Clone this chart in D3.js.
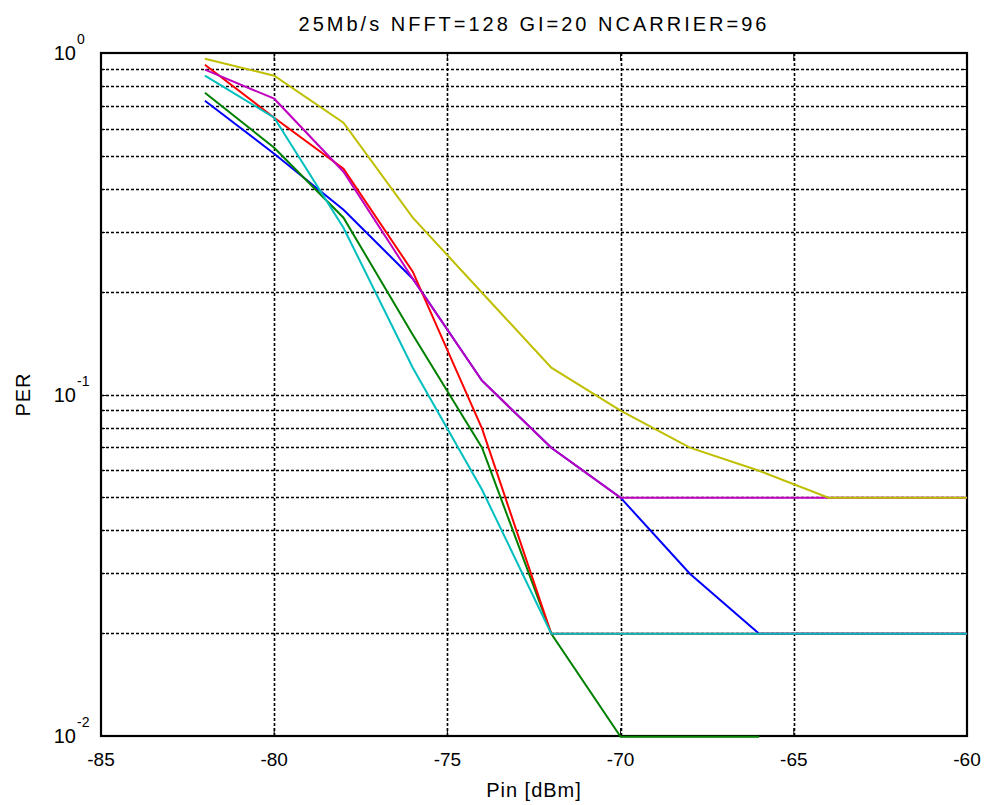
<!DOCTYPE html>
<html>
<head>
<meta charset="utf-8">
<script src="https://cdn.jsdelivr.net/npm/d3@7"></script>
<style>
  body { margin: 0; background: #fff; }
  text { font-family: "Liberation Sans", Arial, sans-serif; fill: #000; }
</style>
</head>
<body>
<script>
// input power points (dBm) and PER curves
const pin = [-82, -80, -78, -76, -74, -72, -70, -68, -66, -64, -62, -60];
const perBlue    = [0.73, 0.51, 0.35, 0.22, 0.11, 0.07, 0.05, 0.03, 0.02, 0.02, 0.02, 0.02];
const perGreen   = [0.77, 0.53, 0.33, 0.15, 0.07, 0.02, 0.01, 0.01, 0.01, null, null, null];
const perRed     = [0.93, 0.65, 0.46, 0.23, 0.08, 0.02, 0.02, 0.02, 0.02, 0.02, 0.02, 0.02];
const perCyan    = [0.86, 0.65, 0.31, 0.12, 0.053, 0.02, 0.02, 0.02, 0.02, 0.02, 0.02, 0.02];
const perMagenta = [0.90, 0.74, 0.45, 0.22, 0.11, 0.07, 0.05, 0.05, 0.05, 0.05, 0.05, 0.05];
const perYellow  = [0.97, 0.86, 0.63, 0.33, 0.20, 0.12, 0.09, 0.07, 0.06, 0.05, 0.05, 0.05];

const xTicks = [-85, -80, -75, -70, -65, -60];
const yDecades = [1, 0.1, 0.01];
const yExp = ["0", "-1", "-2"];

const title = "25Mb/s NFFT=128 GI=20 NCARRIER=96";

// matlab default colour order, plotted in this order
const series = [
  { v: perBlue, c: "#0000ff" },
  { v: perGreen, c: "#008000" },
  { v: perRed, c: "#ff0000" },
  { v: perCyan, c: "#00bfbf" },
  { v: perMagenta, c: "#bf00bf" },
  { v: perYellow, c: "#bfbf00" }
];

const W = 985, H = 805;
const m = { left: 101, top: 53, right: 18, bottom: 69 };
const w = W - m.left - m.right, h = H - m.top - m.bottom;

const svg = d3.select("body").append("svg").attr("width", W).attr("height", H);

const x = d3.scaleLinear().domain([-85, -60]).range([0, w]);
const y = d3.scaleLog().domain([0.01, 1]).range([h, 0]);
// snap to pixel rows so the flat segments stay crisp
const py = v => Math.round(y(v)) + 0.5;

const g = svg.append("g").attr("transform", `translate(${m.left},${m.top})`);

// minor log positions 2..9 in each decade
let minors = [];
[0.01, 0.1].forEach(d => { for (let k = 2; k <= 9; k++) minors.push(d * k); });

// grid (dotted)
g.selectAll(".gx").data(xTicks.slice(1, -1)).join("line")
  .attr("x1", d => Math.round(x(d)) + 0.5).attr("x2", d => Math.round(x(d)) + 0.5).attr("y1", 0).attr("y2", h)
  .attr("stroke", "#000").attr("stroke-width", 1.6).attr("stroke-dasharray", "3,2");
g.selectAll(".gy").data(minors.concat([0.1])).join("line")
  .attr("y1", d => py(d)).attr("y2", d => py(d)).attr("x1", 0).attr("x2", w)
  .attr("stroke", "#000").attr("stroke-width", 1.6).attr("stroke-dasharray", "3,2");

// inner ticks
const tl = 8, tm = 4;
xTicks.forEach(t => {
  g.append("line").attr("x1", x(t)).attr("x2", x(t)).attr("y1", h).attr("y2", h - tl).attr("stroke", "#000");
  g.append("line").attr("x1", x(t)).attr("x2", x(t)).attr("y1", 0).attr("y2", tl).attr("stroke", "#000");
});
yDecades.concat(minors).forEach(t => {
  const len = yDecades.includes(t) ? tl : tm;
  g.append("line").attr("x1", 0).attr("x2", len).attr("y1", py(t)).attr("y2", py(t)).attr("stroke", "#000");
  g.append("line").attr("x1", w).attr("x2", w - len).attr("y1", py(t)).attr("y2", py(t)).attr("stroke", "#000");
});

// box
g.append("rect").attr("width", w).attr("height", h)
  .attr("fill", "none").attr("stroke", "#000").attr("stroke-width", 2.2);

// curves
const line = d3.line()
  .defined(d => d[1] != null)
  .x(d => x(d[0])).y(d => Math.round(y(d[1])) + 0.7);
series.forEach(s => {
  g.append("path").datum(pin.map((p, i) => [p, s.v[i]]))
    .attr("d", line).attr("fill", "none")
    .attr("stroke", s.c).attr("stroke-width", 2);
});

// x tick labels
g.selectAll(".xl").data(xTicks).join("text")
  .attr("x", d => x(d)).attr("y", h + 30)
  .attr("text-anchor", "middle").attr("font-size", 19)
  .text(d => d);

// y tick labels 10^n
yDecades.forEach((d, i) => {
  g.append("text").attr("x", -25).attr("y", y(d) + 7)
    .attr("text-anchor", "end").attr("font-size", 20).text("10");
  g.append("text").attr("x", -24).attr("y", y(d) - 9)
    .attr("text-anchor", "start").attr("font-size", 14).text(yExp[i]);
});

// title and axis labels
svg.append("text").attr("x", m.left + w / 2).attr("y", 31)
  .attr("text-anchor", "middle").attr("font-size", 20)
  .attr("letter-spacing", 3).text(title);
svg.append("text").attr("x", m.left + w / 2).attr("y", 797)
  .attr("text-anchor", "middle").attr("font-size", 20)
  .attr("letter-spacing", 1).text("Pin [dBm]");
svg.append("text")
  .attr("transform", `translate(30,${m.top + h / 2}) rotate(-90)`)
  .attr("text-anchor", "middle").attr("font-size", 20)
  .attr("letter-spacing", 1).text("PER");
</script>
</body>
</html>
